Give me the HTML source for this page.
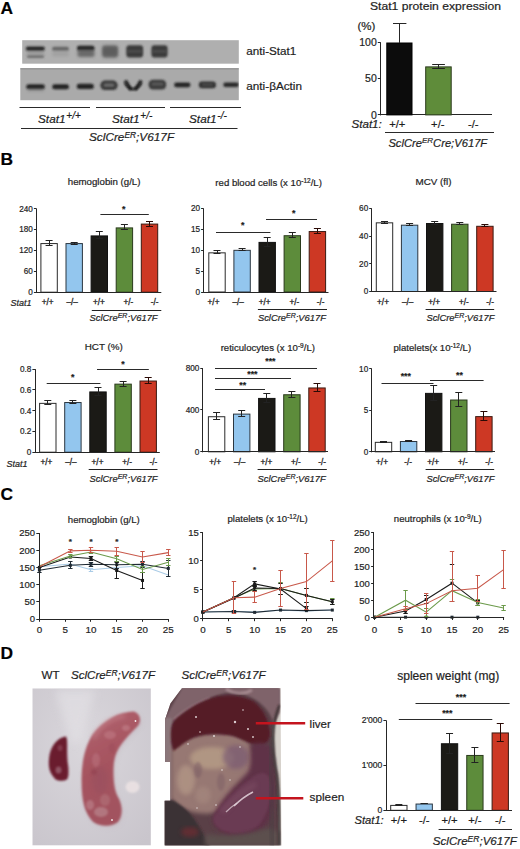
<!DOCTYPE html>
<html><head><meta charset="utf-8"><style>
html,body{margin:0;padding:0;background:#fff;width:520px;height:849px;overflow:hidden}
svg{display:block}
text{font-family:"Liberation Sans", sans-serif}
text:not([fill]){fill:#1e1e1e}
text{stroke:#1e1e1e;stroke-width:0.2px}
text.gt{stroke-width:0.3px}
</style></head><body>
<svg width="520" height="849" viewBox="0 0 520 849">
<rect width="520" height="849" fill="#fff"/>
<text x="0.40" y="13.80" font-size="17.4" font-weight="bold" fill="#000">A</text>
<text x="0.40" y="164.60" font-size="17.4" font-weight="bold" fill="#000">B</text>
<text x="0.40" y="499.90" font-size="17.4" font-weight="bold" fill="#000">C</text>
<text x="0.40" y="658.80" font-size="17.4" font-weight="bold" fill="#000">D</text>
<g id="blots">
<rect x="22.20" y="40.20" width="216.60" height="23.50" fill="#afafaf" />
<rect x="20.30" y="68.00" width="218.50" height="32.20" fill="#aaaaaa" />
</g>
<defs>
<filter id="bl1" x="-30%" y="-80%" width="160%" height="260%"><feGaussianBlur stdDeviation="1.05"/></filter>
<filter id="bl2" x="-30%" y="-80%" width="160%" height="260%"><feGaussianBlur stdDeviation="1.4"/></filter>
<clipPath id="cbt"><rect x="22.2" y="40.2" width="216.6" height="23.5"/></clipPath>
<clipPath id="cbb"><rect x="20.3" y="68.0" width="218.5" height="32.2"/></clipPath>
</defs>
<g clip-path="url(#cbt)">
<rect x="25.8" y="46.4" width="19" height="4.4" rx="2.2" fill="#1e1e1e" opacity="0.95" filter="url(#bl1)"/>
<rect x="27" y="55.4" width="17" height="2.4" rx="1.2" fill="#4a4a4a" opacity="0.75" filter="url(#bl1)"/>
<rect x="27" y="50.5" width="17" height="5" rx="1.5" fill="#777" opacity="0.35" filter="url(#bl2)"/>
<rect x="52.0" y="46.8" width="17" height="4.0" rx="2" fill="#585858" opacity="0.85" filter="url(#bl1)"/>
<rect x="52.3" y="50.5" width="16.5" height="6" rx="1.5" fill="#888" opacity="0.35" filter="url(#bl2)"/>
<rect x="77.0" y="45.8" width="17.5" height="4.8" rx="2.2" fill="#1a1a1a" opacity="0.95" filter="url(#bl1)"/>
<rect x="77.5" y="49.5" width="17" height="7.5" rx="2" fill="#4e4e4e" opacity="0.7" filter="url(#bl2)"/>
<rect x="102.0" y="45.2" width="16.2" height="12.5" rx="3" fill="#606060" opacity="0.9" filter="url(#bl2)"/>
<rect x="103.0" y="47.0" width="14.0" height="8.5" rx="2" fill="#555" opacity="0.5" filter="url(#bl1)"/>
<rect x="126.3" y="45.3" width="16.8" height="12.2" rx="3" fill="#343434" opacity="0.95" filter="url(#bl1)"/>
<rect x="127.5" y="50.3" width="14.5" height="2.2" rx="1" fill="#6a6a6a" opacity="0.45" filter="url(#bl1)"/>
<rect x="151.4" y="45.3" width="16.2" height="12.2" rx="3" fill="#343434" opacity="0.95" filter="url(#bl1)"/>
<rect x="152.5" y="50.3" width="14" height="2.2" rx="1" fill="#6a6a6a" opacity="0.45" filter="url(#bl1)"/>
</g>
<g clip-path="url(#cbb)">
<rect x="20.3" y="68" width="218.5" height="1.6" fill="#8e8e8e" opacity="0.6"/>
<rect x="26.3" y="84.2" width="18.5" height="5.0" rx="2.5" fill="#1a1a1a" opacity="0.95" filter="url(#bl1)"/>
<rect x="26.8" y="88.5" width="17.5" height="3" rx="1.5" fill="#777" opacity="0.4" filter="url(#bl2)"/>
<rect x="52.2" y="84.2" width="16.8" height="5.0" rx="2.5" fill="#1e1e1e" opacity="0.95" filter="url(#bl1)"/>
<rect x="76.8" y="83.8" width="17" height="5.2" rx="2.5" fill="#1a1a1a" opacity="0.95" filter="url(#bl1)"/>
<rect x="100.4" y="80.6" width="17.2" height="9.5" rx="4.5" fill="#2e2e2e" opacity="0.92" filter="url(#bl1)"/>
<rect x="103.5" y="83.2" width="11" height="3.8" rx="1.8" fill="#8a8a8a" opacity="0.6" filter="url(#bl1)"/>
<path d="M124.5,80.8 Q133,95 141.8,80.8 L141.8,84.5 Q133,96 124.5,84.5 Z" fill="#1a1a1a" filter="url(#bl1)"/>
<path d="M125.5,80.5 L131,90 M141,80.5 L135.2,90" stroke="#1e1e1e" stroke-width="3" filter="url(#bl1)"/>
<rect x="148.6" y="79.8" width="17.6" height="9.8" rx="4.5" fill="#303030" opacity="0.92" filter="url(#bl1)"/>
<rect x="151.5" y="82.3" width="12" height="3.5" rx="1.5" fill="#7a7a7a" opacity="0.45" filter="url(#bl1)"/>
<rect x="174.2" y="82.6" width="16.2" height="4.6" rx="2.2" fill="#1e1e1e" opacity="0.95" filter="url(#bl1)"/>
<rect x="198.9" y="81.4" width="17" height="6.8" rx="3" fill="#282828" opacity="0.95" filter="url(#bl1)"/>
<rect x="201.5" y="83.6" width="12" height="2.4" rx="1" fill="#777" opacity="0.45" filter="url(#bl1)"/>
<rect x="223.3" y="82.4" width="15.5" height="4.6" rx="2.2" fill="#222" opacity="0.95" filter="url(#bl1)"/>
</g>
<text x="246.30" y="55.00" font-size="11.7" textLength="50.00" lengthAdjust="spacingAndGlyphs">anti-Stat1</text>
<text x="246.30" y="89.60" font-size="11.7" textLength="55.70" lengthAdjust="spacingAndGlyphs">anti-βActin</text>
<line x1="19.50" y1="107.50" x2="90.00" y2="107.50" stroke="#2a2a2a" stroke-width="1.2" />
<line x1="96.00" y1="107.50" x2="165.00" y2="107.50" stroke="#2a2a2a" stroke-width="1.2" />
<line x1="170.00" y1="107.50" x2="241.00" y2="107.50" stroke="#2a2a2a" stroke-width="1.2" />
<line x1="21.00" y1="128.50" x2="237.50" y2="128.50" stroke="#2a2a2a" stroke-width="1.2" />
<text x="38.00" y="122.80" font-size="11.8" font-style="italic">Stat1<tspan dy="-4.2" dx="0.8" font-size="10">+/+</tspan></text>
<text x="112.00" y="122.80" font-size="11.8" font-style="italic">Stat1<tspan dy="-4.2" dx="0.8" font-size="10">+/-</tspan></text>
<text x="189.00" y="122.80" font-size="11.8" font-style="italic">Stat1<tspan dy="-4.2" dx="0.8" font-size="10">-/-</tspan></text>
<text x="89.00" y="141.20" font-size="11.8" font-style="italic">SclCre<tspan dy="-3.6" font-size="8.4">ER</tspan><tspan dy="3.6">;V617F</tspan></text>
<text x="435.50" y="10.00" font-size="11.5" text-anchor="middle" textLength="131.00" lengthAdjust="spacingAndGlyphs">Stat1 protein expression</text>
<text x="357.50" y="29.50" font-size="11.5">(%)</text>
<line x1="380.50" y1="42.50" x2="380.50" y2="115.40" stroke="#262626" stroke-width="1.0" />
<line x1="380.30" y1="114.50" x2="492.00" y2="114.50" stroke="#262626" stroke-width="1.0" />
<line x1="377.80" y1="114.50" x2="380.80" y2="114.50" stroke="#262626" stroke-width="1.0" />
<text x="376.80" y="118.60" font-size="10.5" text-anchor="end">0</text>
<line x1="377.80" y1="78.50" x2="380.80" y2="78.50" stroke="#262626" stroke-width="1.0" />
<text x="376.80" y="82.40" font-size="10.5" text-anchor="end">50</text>
<line x1="377.80" y1="42.50" x2="380.80" y2="42.50" stroke="#262626" stroke-width="1.0" />
<text x="376.80" y="46.20" font-size="10.5" text-anchor="end">100</text>
<rect x="386.80" y="43.00" width="25.20" height="71.90" fill="#0c0c0c" stroke="#000" stroke-width="1" />
<line x1="399.50" y1="23.00" x2="399.50" y2="43.00" stroke="#262626" stroke-width="1.0" />
<line x1="393.00" y1="23.50" x2="406.40" y2="23.50" stroke="#262626" stroke-width="1.0" />
<rect x="425.70" y="66.89" width="25.50" height="48.01" fill="#5f8c3a" stroke="#2a3a1c" stroke-width="1" />
<line x1="438.50" y1="64.70" x2="438.50" y2="68.30" stroke="#222" stroke-width="1.0" />
<line x1="432.20" y1="64.50" x2="444.90" y2="64.50" stroke="#222" stroke-width="1.0" />
<line x1="432.20" y1="68.50" x2="444.90" y2="68.50" stroke="#222" stroke-width="1.0" />
<text x="351.50" y="127.60" font-size="11.6" font-style="italic">Stat1:</text>
<text x="397.30" y="127.60" font-size="11.2" text-anchor="middle">+/+</text>
<text x="437.80" y="127.60" font-size="11.2" text-anchor="middle">+/-</text>
<text x="473.20" y="127.60" font-size="11.2" text-anchor="middle">-/-</text>
<line x1="385.00" y1="132.50" x2="494.00" y2="132.50" stroke="#2a2a2a" stroke-width="1.2" />
<text x="388.40" y="146.60" font-size="11.2" font-style="italic">SclCre<tspan dy="-3.2" font-size="8">ER</tspan><tspan dy="3.2">Cre;V617F</tspan></text>
<rect x="40.90" y="243.58" width="16.40" height="48.62" fill="#ffffff" stroke="#2a2a2a" stroke-width="1.0" />
<line x1="49.50" y1="240.65" x2="49.50" y2="245.52" stroke="#222" stroke-width="1.0" />
<line x1="45.60" y1="240.50" x2="52.60" y2="240.50" stroke="#222" stroke-width="1.0" />
<line x1="45.60" y1="245.50" x2="52.60" y2="245.50" stroke="#222" stroke-width="1.0" />
<rect x="66.00" y="243.58" width="16.40" height="48.62" fill="#93c6ee" stroke="#2b3640" stroke-width="1.0" />
<line x1="74.50" y1="242.04" x2="74.50" y2="244.13" stroke="#222" stroke-width="1.0" />
<line x1="70.70" y1="242.50" x2="77.70" y2="242.50" stroke="#222" stroke-width="1.0" />
<line x1="70.70" y1="244.50" x2="77.70" y2="244.50" stroke="#222" stroke-width="1.0" />
<rect x="91.10" y="235.92" width="16.40" height="56.28" fill="#1b1a16" stroke="#111" stroke-width="1.0" />
<line x1="99.50" y1="231.94" x2="99.50" y2="238.90" stroke="#222" stroke-width="1.0" />
<line x1="95.80" y1="231.50" x2="102.80" y2="231.50" stroke="#222" stroke-width="1.0" />
<line x1="95.80" y1="238.50" x2="102.80" y2="238.50" stroke="#222" stroke-width="1.0" />
<rect x="116.20" y="227.91" width="16.40" height="64.29" fill="#5d8c3b" stroke="#2a3a1c" stroke-width="1.0" />
<line x1="124.50" y1="224.97" x2="124.50" y2="229.85" stroke="#222" stroke-width="1.0" />
<line x1="120.90" y1="224.50" x2="127.90" y2="224.50" stroke="#222" stroke-width="1.0" />
<line x1="120.90" y1="229.50" x2="127.90" y2="229.50" stroke="#222" stroke-width="1.0" />
<rect x="141.30" y="224.08" width="16.40" height="68.12" fill="#cd3824" stroke="#3a1a12" stroke-width="1.0" />
<line x1="149.50" y1="221.14" x2="149.50" y2="226.02" stroke="#2a0a05" stroke-width="1.0" />
<line x1="146.00" y1="221.50" x2="153.00" y2="221.50" stroke="#2a0a05" stroke-width="1.0" />
<line x1="146.00" y1="226.50" x2="153.00" y2="226.50" stroke="#2a0a05" stroke-width="1.0" />
<line x1="36.50" y1="208.60" x2="36.50" y2="292.70" stroke="#262626" stroke-width="1.0" />
<line x1="36.00" y1="292.50" x2="161.30" y2="292.50" stroke="#262626" stroke-width="1.0" />
<line x1="33.90" y1="292.50" x2="36.50" y2="292.50" stroke="#262626" stroke-width="1.0" />
<text x="32.90" y="295.15" font-size="8.2" text-anchor="end">0</text>
<line x1="33.90" y1="271.50" x2="36.50" y2="271.50" stroke="#262626" stroke-width="1.0" />
<text x="32.90" y="274.25" font-size="8.2" text-anchor="end">60</text>
<line x1="33.90" y1="250.50" x2="36.50" y2="250.50" stroke="#262626" stroke-width="1.0" />
<text x="32.90" y="253.35" font-size="8.2" text-anchor="end">120</text>
<line x1="33.90" y1="229.50" x2="36.50" y2="229.50" stroke="#262626" stroke-width="1.0" />
<text x="32.90" y="232.45" font-size="8.2" text-anchor="end">180</text>
<line x1="33.90" y1="208.50" x2="36.50" y2="208.50" stroke="#262626" stroke-width="1.0" />
<text x="32.90" y="211.55" font-size="8.2" text-anchor="end">240</text>
<line x1="100.40" y1="214.50" x2="148.80" y2="214.50" stroke="#2a2a2a" stroke-width="1.0" />
<text x="123.60" y="211.90" font-size="8.8" text-anchor="middle" font-weight="bold">*</text>
<text x="104.10" y="184.70" font-size="9.6" text-anchor="middle" textLength="72.70" lengthAdjust="spacingAndGlyphs">hemoglobin (g/L)</text>
<text x="10.40" y="306.40" font-size="9" font-style="italic">Stat1</text>
<text x="47.60" y="305.00" font-size="8.2" class="gt" text-anchor="middle">+/+</text>
<text x="72.20" y="305.00" font-size="8.2" class="gt" text-anchor="middle">–/–</text>
<text x="98.80" y="305.00" font-size="8.2" class="gt" text-anchor="middle">+/+</text>
<text x="128.40" y="305.00" font-size="8.2" class="gt" text-anchor="middle">+/-</text>
<text x="154.70" y="305.00" font-size="8.2" class="gt" text-anchor="middle">-/-</text>
<line x1="91.80" y1="310.50" x2="161.30" y2="310.50" stroke="#222" stroke-width="1.0" />
<text x="89.50" y="321.30" font-size="9.4" font-style="italic">SclCre<tspan dy="-3.2" font-size="7">ER</tspan><tspan dy="3.2">;V617F</tspan></text>
<rect x="208.80" y="252.84" width="16.40" height="39.16" fill="#ffffff" stroke="#2a2a2a" stroke-width="1.0" />
<line x1="217.50" y1="250.88" x2="217.50" y2="253.80" stroke="#222" stroke-width="1.0" />
<line x1="213.50" y1="250.50" x2="220.50" y2="250.50" stroke="#222" stroke-width="1.0" />
<line x1="213.50" y1="253.50" x2="220.50" y2="253.50" stroke="#222" stroke-width="1.0" />
<rect x="233.90" y="250.33" width="16.40" height="41.67" fill="#93c6ee" stroke="#2b3640" stroke-width="1.0" />
<line x1="242.50" y1="248.79" x2="242.50" y2="250.88" stroke="#222" stroke-width="1.0" />
<line x1="238.60" y1="248.50" x2="245.60" y2="248.50" stroke="#222" stroke-width="1.0" />
<line x1="238.60" y1="250.50" x2="245.60" y2="250.50" stroke="#222" stroke-width="1.0" />
<rect x="259.00" y="242.40" width="16.40" height="49.60" fill="#1b1a16" stroke="#111" stroke-width="1.0" />
<line x1="267.50" y1="237.72" x2="267.50" y2="246.07" stroke="#222" stroke-width="1.0" />
<line x1="263.70" y1="237.50" x2="270.70" y2="237.50" stroke="#222" stroke-width="1.0" />
<line x1="263.70" y1="246.50" x2="270.70" y2="246.50" stroke="#222" stroke-width="1.0" />
<rect x="284.10" y="235.72" width="16.40" height="56.28" fill="#5d8c3b" stroke="#2a3a1c" stroke-width="1.0" />
<line x1="292.50" y1="232.72" x2="292.50" y2="237.72" stroke="#222" stroke-width="1.0" />
<line x1="288.80" y1="232.50" x2="295.80" y2="232.50" stroke="#222" stroke-width="1.0" />
<line x1="288.80" y1="237.50" x2="295.80" y2="237.50" stroke="#222" stroke-width="1.0" />
<rect x="309.20" y="231.55" width="16.40" height="60.45" fill="#cd3824" stroke="#3a1a12" stroke-width="1.0" />
<line x1="317.50" y1="228.54" x2="317.50" y2="233.55" stroke="#2a0a05" stroke-width="1.0" />
<line x1="313.90" y1="228.50" x2="320.90" y2="228.50" stroke="#2a0a05" stroke-width="1.0" />
<line x1="313.90" y1="233.50" x2="320.90" y2="233.50" stroke="#2a0a05" stroke-width="1.0" />
<line x1="203.50" y1="208.50" x2="203.50" y2="292.50" stroke="#262626" stroke-width="1.0" />
<line x1="203.20" y1="292.50" x2="328.50" y2="292.50" stroke="#262626" stroke-width="1.0" />
<line x1="201.10" y1="292.50" x2="203.70" y2="292.50" stroke="#262626" stroke-width="1.0" />
<text x="200.10" y="294.95" font-size="8.2" text-anchor="end">0</text>
<line x1="201.10" y1="271.50" x2="203.70" y2="271.50" stroke="#262626" stroke-width="1.0" />
<text x="200.10" y="274.08" font-size="8.2" text-anchor="end">5</text>
<line x1="201.10" y1="250.50" x2="203.70" y2="250.50" stroke="#262626" stroke-width="1.0" />
<text x="200.10" y="253.20" font-size="8.2" text-anchor="end">10</text>
<line x1="201.10" y1="229.50" x2="203.70" y2="229.50" stroke="#262626" stroke-width="1.0" />
<text x="200.10" y="232.33" font-size="8.2" text-anchor="end">15</text>
<line x1="201.10" y1="208.50" x2="203.70" y2="208.50" stroke="#262626" stroke-width="1.0" />
<text x="200.10" y="211.45" font-size="8.2" text-anchor="end">20</text>
<line x1="216.00" y1="232.50" x2="270.40" y2="232.50" stroke="#2a2a2a" stroke-width="1.0" />
<text x="242.70" y="227.60" font-size="8.8" text-anchor="middle" font-weight="bold">*</text>
<line x1="266.00" y1="219.50" x2="317.00" y2="219.50" stroke="#2a2a2a" stroke-width="1.0" />
<text x="293.60" y="215.60" font-size="8.8" text-anchor="middle" font-weight="bold">*</text>
<text x="268.60" y="185.70" font-size="9.6" text-anchor="middle">red blood cells (x 10<tspan dy="-3" font-size="6.5">-12</tspan><tspan dy="3">/L)</tspan></text>
<text x="213.50" y="305.00" font-size="8.2" class="gt" text-anchor="middle">+/+</text>
<text x="238.10" y="305.00" font-size="8.2" class="gt" text-anchor="middle">–/–</text>
<text x="264.70" y="305.00" font-size="8.2" class="gt" text-anchor="middle">+/+</text>
<text x="294.30" y="305.00" font-size="8.2" class="gt" text-anchor="middle">+/-</text>
<text x="320.60" y="305.00" font-size="8.2" class="gt" text-anchor="middle">-/-</text>
<line x1="257.90" y1="309.50" x2="327.00" y2="309.50" stroke="#222" stroke-width="1.0" />
<text x="257.90" y="321.30" font-size="9.4" font-style="italic">SclCre<tspan dy="-3.2" font-size="7">ER</tspan><tspan dy="3.2">;V617F</tspan></text>
<rect x="376.30" y="222.83" width="16.40" height="68.67" fill="#ffffff" stroke="#2a2a2a" stroke-width="1.0" />
<line x1="384.50" y1="221.50" x2="384.50" y2="223.16" stroke="#222" stroke-width="1.0" />
<line x1="381.00" y1="221.50" x2="388.00" y2="221.50" stroke="#222" stroke-width="1.0" />
<line x1="381.00" y1="223.50" x2="388.00" y2="223.50" stroke="#222" stroke-width="1.0" />
<rect x="401.40" y="225.19" width="16.40" height="66.31" fill="#93c6ee" stroke="#2b3640" stroke-width="1.0" />
<line x1="409.50" y1="223.86" x2="409.50" y2="225.51" stroke="#222" stroke-width="1.0" />
<line x1="406.10" y1="223.50" x2="413.10" y2="223.50" stroke="#222" stroke-width="1.0" />
<line x1="406.10" y1="225.50" x2="413.10" y2="225.50" stroke="#222" stroke-width="1.0" />
<rect x="426.50" y="223.53" width="16.40" height="67.97" fill="#1b1a16" stroke="#111" stroke-width="1.0" />
<line x1="434.50" y1="221.64" x2="434.50" y2="224.41" stroke="#222" stroke-width="1.0" />
<line x1="431.20" y1="221.50" x2="438.20" y2="221.50" stroke="#222" stroke-width="1.0" />
<line x1="431.20" y1="224.50" x2="438.20" y2="224.50" stroke="#222" stroke-width="1.0" />
<rect x="451.60" y="224.22" width="16.40" height="67.28" fill="#5d8c3b" stroke="#2a3a1c" stroke-width="1.0" />
<line x1="459.50" y1="222.75" x2="459.50" y2="224.69" stroke="#222" stroke-width="1.0" />
<line x1="456.30" y1="222.50" x2="463.30" y2="222.50" stroke="#222" stroke-width="1.0" />
<line x1="456.30" y1="224.50" x2="463.30" y2="224.50" stroke="#222" stroke-width="1.0" />
<rect x="476.70" y="226.29" width="16.40" height="65.21" fill="#cd3824" stroke="#3a1a12" stroke-width="1.0" />
<line x1="484.50" y1="224.96" x2="484.50" y2="226.62" stroke="#2a0a05" stroke-width="1.0" />
<line x1="481.40" y1="224.50" x2="488.40" y2="224.50" stroke="#2a0a05" stroke-width="1.0" />
<line x1="481.40" y1="226.50" x2="488.40" y2="226.50" stroke="#2a0a05" stroke-width="1.0" />
<line x1="371.50" y1="208.50" x2="371.50" y2="292.00" stroke="#262626" stroke-width="1.0" />
<line x1="371.30" y1="291.50" x2="496.50" y2="291.50" stroke="#262626" stroke-width="1.0" />
<line x1="369.20" y1="291.50" x2="371.80" y2="291.50" stroke="#262626" stroke-width="1.0" />
<text x="368.20" y="294.45" font-size="8.2" text-anchor="end">0</text>
<line x1="369.20" y1="263.50" x2="371.80" y2="263.50" stroke="#262626" stroke-width="1.0" />
<text x="368.20" y="266.79" font-size="8.2" text-anchor="end">20</text>
<line x1="369.20" y1="236.50" x2="371.80" y2="236.50" stroke="#262626" stroke-width="1.0" />
<text x="368.20" y="239.12" font-size="8.2" text-anchor="end">40</text>
<line x1="369.20" y1="208.50" x2="371.80" y2="208.50" stroke="#262626" stroke-width="1.0" />
<text x="368.20" y="211.45" font-size="8.2" text-anchor="end">60</text>
<text x="433.50" y="184.70" font-size="9.6" text-anchor="middle" textLength="36.00" lengthAdjust="spacingAndGlyphs">MCV (fl)</text>
<text x="383.00" y="305.00" font-size="8.2" class="gt" text-anchor="middle">+/+</text>
<text x="407.60" y="305.00" font-size="8.2" class="gt" text-anchor="middle">–/–</text>
<text x="434.20" y="305.00" font-size="8.2" class="gt" text-anchor="middle">+/+</text>
<text x="463.80" y="305.00" font-size="8.2" class="gt" text-anchor="middle">+/-</text>
<text x="490.10" y="305.00" font-size="8.2" class="gt" text-anchor="middle">-/-</text>
<line x1="425.60" y1="309.50" x2="494.20" y2="309.50" stroke="#222" stroke-width="1.0" />
<text x="426.40" y="321.30" font-size="9.4" font-style="italic">SclCre<tspan dy="-3.2" font-size="7">ER</tspan><tspan dy="3.2">;V617F</tspan></text>
<rect x="39.60" y="403.36" width="16.40" height="48.84" fill="#ffffff" stroke="#2a2a2a" stroke-width="1.0" />
<line x1="47.50" y1="400.78" x2="47.50" y2="404.94" stroke="#222" stroke-width="1.0" />
<line x1="44.30" y1="400.50" x2="51.30" y2="400.50" stroke="#222" stroke-width="1.0" />
<line x1="44.30" y1="404.50" x2="51.30" y2="404.50" stroke="#222" stroke-width="1.0" />
<rect x="64.70" y="402.53" width="16.40" height="49.67" fill="#93c6ee" stroke="#2b3640" stroke-width="1.0" />
<line x1="72.50" y1="400.47" x2="72.50" y2="403.59" stroke="#222" stroke-width="1.0" />
<line x1="69.40" y1="400.50" x2="76.40" y2="400.50" stroke="#222" stroke-width="1.0" />
<line x1="69.40" y1="403.50" x2="76.40" y2="403.50" stroke="#222" stroke-width="1.0" />
<rect x="89.80" y="391.93" width="16.40" height="60.27" fill="#1b1a16" stroke="#111" stroke-width="1.0" />
<line x1="98.50" y1="387.28" x2="98.50" y2="395.59" stroke="#222" stroke-width="1.0" />
<line x1="94.50" y1="387.50" x2="101.50" y2="387.50" stroke="#222" stroke-width="1.0" />
<line x1="94.50" y1="395.50" x2="101.50" y2="395.50" stroke="#222" stroke-width="1.0" />
<rect x="114.90" y="384.14" width="16.40" height="68.06" fill="#5d8c3b" stroke="#2a3a1c" stroke-width="1.0" />
<line x1="123.50" y1="381.05" x2="123.50" y2="386.24" stroke="#222" stroke-width="1.0" />
<line x1="119.60" y1="381.50" x2="126.60" y2="381.50" stroke="#222" stroke-width="1.0" />
<line x1="119.60" y1="386.50" x2="126.60" y2="386.50" stroke="#222" stroke-width="1.0" />
<rect x="140.00" y="381.03" width="16.40" height="71.17" fill="#cd3824" stroke="#3a1a12" stroke-width="1.0" />
<line x1="148.50" y1="377.93" x2="148.50" y2="383.12" stroke="#2a0a05" stroke-width="1.0" />
<line x1="144.70" y1="377.50" x2="151.70" y2="377.50" stroke="#2a0a05" stroke-width="1.0" />
<line x1="144.70" y1="383.50" x2="151.70" y2="383.50" stroke="#2a0a05" stroke-width="1.0" />
<line x1="35.50" y1="369.10" x2="35.50" y2="452.70" stroke="#262626" stroke-width="1.0" />
<line x1="34.50" y1="452.50" x2="159.80" y2="452.50" stroke="#262626" stroke-width="1.0" />
<line x1="32.40" y1="452.50" x2="35.00" y2="452.50" stroke="#262626" stroke-width="1.0" />
<text x="31.40" y="455.15" font-size="8.2" text-anchor="end">0</text>
<line x1="32.40" y1="431.50" x2="35.00" y2="431.50" stroke="#262626" stroke-width="1.0" />
<text x="31.40" y="434.38" font-size="8.2" text-anchor="end">0.2</text>
<line x1="32.40" y1="410.50" x2="35.00" y2="410.50" stroke="#262626" stroke-width="1.0" />
<text x="31.40" y="413.60" font-size="8.2" text-anchor="end">0.4</text>
<line x1="32.40" y1="389.50" x2="35.00" y2="389.50" stroke="#262626" stroke-width="1.0" />
<text x="31.40" y="392.83" font-size="8.2" text-anchor="end">0.6</text>
<line x1="32.40" y1="369.50" x2="35.00" y2="369.50" stroke="#262626" stroke-width="1.0" />
<text x="31.40" y="372.05" font-size="8.2" text-anchor="end">0.8</text>
<line x1="46.70" y1="383.50" x2="100.40" y2="383.50" stroke="#2a2a2a" stroke-width="1.0" />
<text x="72.70" y="379.60" font-size="8.8" text-anchor="middle" font-weight="bold">*</text>
<line x1="97.00" y1="369.50" x2="148.80" y2="369.50" stroke="#2a2a2a" stroke-width="1.0" />
<text x="122.90" y="366.50" font-size="8.8" text-anchor="middle" font-weight="bold">*</text>
<text x="103.80" y="350.00" font-size="9.6" text-anchor="middle" textLength="38.10" lengthAdjust="spacingAndGlyphs">HCT (%)</text>
<text x="6.60" y="466.70" font-size="9" font-style="italic">Stat1</text>
<text x="46.30" y="465.30" font-size="8.2" class="gt" text-anchor="middle">+/+</text>
<text x="70.90" y="465.30" font-size="8.2" class="gt" text-anchor="middle">–/–</text>
<text x="97.50" y="465.30" font-size="8.2" class="gt" text-anchor="middle">+/+</text>
<text x="127.10" y="465.30" font-size="8.2" class="gt" text-anchor="middle">+/-</text>
<text x="153.40" y="465.30" font-size="8.2" class="gt" text-anchor="middle">-/-</text>
<line x1="88.70" y1="469.50" x2="157.50" y2="469.50" stroke="#222" stroke-width="1.0" />
<text x="89.50" y="481.80" font-size="9.4" font-style="italic">SclCre<tspan dy="-3.2" font-size="7">ER</tspan><tspan dy="3.2">;V617F</tspan></text>
<rect x="208.40" y="416.73" width="16.40" height="35.07" fill="#ffffff" stroke="#2a2a2a" stroke-width="1.0" />
<line x1="216.50" y1="412.57" x2="216.50" y2="419.89" stroke="#222" stroke-width="1.0" />
<line x1="213.10" y1="412.50" x2="220.10" y2="412.50" stroke="#222" stroke-width="1.0" />
<line x1="213.10" y1="419.50" x2="220.10" y2="419.50" stroke="#222" stroke-width="1.0" />
<rect x="233.50" y="414.11" width="16.40" height="37.69" fill="#93c6ee" stroke="#2b3640" stroke-width="1.0" />
<line x1="241.50" y1="410.47" x2="241.50" y2="416.75" stroke="#222" stroke-width="1.0" />
<line x1="238.20" y1="410.50" x2="245.20" y2="410.50" stroke="#222" stroke-width="1.0" />
<line x1="238.20" y1="416.50" x2="245.20" y2="416.50" stroke="#222" stroke-width="1.0" />
<rect x="258.60" y="398.42" width="16.40" height="53.38" fill="#1b1a16" stroke="#111" stroke-width="1.0" />
<line x1="266.50" y1="393.21" x2="266.50" y2="402.63" stroke="#222" stroke-width="1.0" />
<line x1="263.30" y1="393.50" x2="270.30" y2="393.50" stroke="#222" stroke-width="1.0" />
<line x1="263.30" y1="402.50" x2="270.30" y2="402.50" stroke="#222" stroke-width="1.0" />
<rect x="283.70" y="394.76" width="16.40" height="57.04" fill="#5d8c3b" stroke="#2a3a1c" stroke-width="1.0" />
<line x1="291.50" y1="391.12" x2="291.50" y2="397.40" stroke="#222" stroke-width="1.0" />
<line x1="288.40" y1="391.50" x2="295.40" y2="391.50" stroke="#222" stroke-width="1.0" />
<line x1="288.40" y1="397.50" x2="295.40" y2="397.50" stroke="#222" stroke-width="1.0" />
<rect x="308.80" y="387.96" width="16.40" height="63.84" fill="#cd3824" stroke="#3a1a12" stroke-width="1.0" />
<line x1="317.50" y1="383.27" x2="317.50" y2="391.64" stroke="#2a0a05" stroke-width="1.0" />
<line x1="313.50" y1="383.50" x2="320.50" y2="383.50" stroke="#2a0a05" stroke-width="1.0" />
<line x1="313.50" y1="391.50" x2="320.50" y2="391.50" stroke="#2a0a05" stroke-width="1.0" />
<line x1="202.50" y1="368.10" x2="202.50" y2="452.30" stroke="#262626" stroke-width="1.0" />
<line x1="202.40" y1="451.50" x2="328.00" y2="451.50" stroke="#262626" stroke-width="1.0" />
<line x1="200.30" y1="451.50" x2="202.90" y2="451.50" stroke="#262626" stroke-width="1.0" />
<text x="199.30" y="454.75" font-size="8.2" text-anchor="end">0</text>
<line x1="200.30" y1="409.50" x2="202.90" y2="409.50" stroke="#262626" stroke-width="1.0" />
<text x="199.30" y="412.90" font-size="8.2" text-anchor="end">400</text>
<line x1="200.30" y1="368.50" x2="202.90" y2="368.50" stroke="#262626" stroke-width="1.0" />
<text x="199.30" y="371.05" font-size="8.2" text-anchor="end">800</text>
<line x1="215.00" y1="368.50" x2="317.00" y2="368.50" stroke="#2a2a2a" stroke-width="1.0" />
<text x="270.40" y="364.10" font-size="8.8" text-anchor="middle" font-weight="bold">***</text>
<line x1="215.00" y1="378.50" x2="291.00" y2="378.50" stroke="#2a2a2a" stroke-width="1.0" />
<text x="252.40" y="376.90" font-size="8.8" text-anchor="middle" font-weight="bold">***</text>
<line x1="215.00" y1="389.50" x2="265.00" y2="389.50" stroke="#2a2a2a" stroke-width="1.0" />
<text x="242.70" y="387.90" font-size="8.8" text-anchor="middle" font-weight="bold">**</text>
<text x="267.80" y="351.00" font-size="9.6" text-anchor="middle">reticulocytes (x 10<tspan dy="-3" font-size="6.5">-9</tspan><tspan dy="3">/L)</tspan></text>
<text x="215.10" y="465.30" font-size="8.2" class="gt" text-anchor="middle">+/+</text>
<text x="239.70" y="465.30" font-size="8.2" class="gt" text-anchor="middle">–/–</text>
<text x="266.30" y="465.30" font-size="8.2" class="gt" text-anchor="middle">+/+</text>
<text x="295.90" y="465.30" font-size="8.2" class="gt" text-anchor="middle">+/-</text>
<text x="322.20" y="465.30" font-size="8.2" class="gt" text-anchor="middle">-/-</text>
<line x1="257.60" y1="469.50" x2="326.80" y2="469.50" stroke="#222" stroke-width="1.0" />
<text x="257.60" y="481.80" font-size="9.4" font-style="italic">SclCre<tspan dy="-3.2" font-size="7">ER</tspan><tspan dy="3.2">;V617F</tspan></text>
<rect x="375.30" y="442.34" width="16.40" height="9.46" fill="#ffffff" stroke="#2a2a2a" stroke-width="1.0" />
<line x1="383.50" y1="441.34" x2="383.50" y2="442.34" stroke="#222" stroke-width="1.0" />
<line x1="380.00" y1="441.50" x2="387.00" y2="441.50" stroke="#222" stroke-width="1.0" />
<line x1="380.00" y1="442.50" x2="387.00" y2="442.50" stroke="#222" stroke-width="1.0" />
<rect x="400.40" y="441.51" width="16.40" height="10.29" fill="#93c6ee" stroke="#2b3640" stroke-width="1.0" />
<line x1="408.50" y1="440.51" x2="408.50" y2="441.51" stroke="#222" stroke-width="1.0" />
<line x1="405.10" y1="440.50" x2="412.10" y2="440.50" stroke="#222" stroke-width="1.0" />
<line x1="405.10" y1="441.50" x2="412.10" y2="441.50" stroke="#222" stroke-width="1.0" />
<rect x="425.50" y="393.37" width="16.40" height="58.43" fill="#1b1a16" stroke="#111" stroke-width="1.0" />
<line x1="433.50" y1="385.40" x2="433.50" y2="400.34" stroke="#222" stroke-width="1.0" />
<line x1="430.20" y1="385.50" x2="437.20" y2="385.50" stroke="#222" stroke-width="1.0" />
<line x1="430.20" y1="400.50" x2="437.20" y2="400.50" stroke="#222" stroke-width="1.0" />
<rect x="450.60" y="400.01" width="16.40" height="51.79" fill="#5d8c3b" stroke="#2a3a1c" stroke-width="1.0" />
<line x1="458.50" y1="392.87" x2="458.50" y2="406.15" stroke="#222" stroke-width="1.0" />
<line x1="455.30" y1="392.50" x2="462.30" y2="392.50" stroke="#222" stroke-width="1.0" />
<line x1="455.30" y1="406.50" x2="462.30" y2="406.50" stroke="#222" stroke-width="1.0" />
<rect x="475.70" y="416.61" width="16.40" height="35.19" fill="#cd3824" stroke="#3a1a12" stroke-width="1.0" />
<line x1="483.50" y1="411.96" x2="483.50" y2="420.26" stroke="#2a0a05" stroke-width="1.0" />
<line x1="480.40" y1="411.50" x2="487.40" y2="411.50" stroke="#2a0a05" stroke-width="1.0" />
<line x1="480.40" y1="420.50" x2="487.40" y2="420.50" stroke="#2a0a05" stroke-width="1.0" />
<line x1="371.50" y1="368.80" x2="371.50" y2="452.30" stroke="#262626" stroke-width="1.0" />
<line x1="371.30" y1="451.50" x2="495.00" y2="451.50" stroke="#262626" stroke-width="1.0" />
<line x1="369.20" y1="451.50" x2="371.80" y2="451.50" stroke="#262626" stroke-width="1.0" />
<text x="368.20" y="454.75" font-size="8.2" text-anchor="end">0</text>
<line x1="369.20" y1="410.50" x2="371.80" y2="410.50" stroke="#262626" stroke-width="1.0" />
<text x="368.20" y="413.25" font-size="8.2" text-anchor="end">5</text>
<line x1="369.20" y1="368.50" x2="371.80" y2="368.50" stroke="#262626" stroke-width="1.0" />
<text x="368.20" y="371.75" font-size="8.2" text-anchor="end">10</text>
<line x1="381.50" y1="383.50" x2="433.50" y2="383.50" stroke="#2a2a2a" stroke-width="1.0" />
<text x="405.80" y="378.60" font-size="8.8" text-anchor="middle" font-weight="bold">***</text>
<line x1="430.00" y1="380.50" x2="483.60" y2="380.50" stroke="#2a2a2a" stroke-width="1.0" />
<text x="459.40" y="377.90" font-size="8.8" text-anchor="middle" font-weight="bold">**</text>
<text x="432.30" y="351.00" font-size="9.6" text-anchor="middle">platelets(x 10<tspan dy="-3" font-size="6.5">-12</tspan><tspan dy="3">/L)</tspan></text>
<text x="382.00" y="465.30" font-size="8.2" class="gt" text-anchor="middle">+/+</text>
<text x="408.10" y="465.30" font-size="8.2" class="gt" text-anchor="middle">-/-</text>
<text x="433.20" y="465.30" font-size="8.2" class="gt" text-anchor="middle">+/+</text>
<text x="462.80" y="465.30" font-size="8.2" class="gt" text-anchor="middle">+/-</text>
<text x="489.10" y="465.30" font-size="8.2" class="gt" text-anchor="middle">-/-</text>
<line x1="425.60" y1="469.50" x2="494.20" y2="469.50" stroke="#222" stroke-width="1.0" />
<text x="426.40" y="481.80" font-size="9.4" font-style="italic">SclCre<tspan dy="-3.2" font-size="7">ER</tspan><tspan dy="3.2">;V617F</tspan></text>
<polyline points="39.40,566.71 70.34,563.96 90.96,569.81 116.74,567.40 142.52,565.68 168.30,574.97" fill="none" stroke="#a9cbe6" stroke-width="1.05"/>
<line x1="90.50" y1="568.43" x2="90.50" y2="571.18" stroke="#a9cbe6" stroke-width="1.0" />
<line x1="88.76" y1="568.50" x2="93.16" y2="568.50" stroke="#a9cbe6" stroke-width="1.0" />
<line x1="88.76" y1="571.50" x2="93.16" y2="571.50" stroke="#a9cbe6" stroke-width="1.0" />
<polyline points="39.40,570.15 70.34,565.34 90.96,564.30 116.74,564.65 142.52,564.30 168.30,568.43" fill="none" stroke="#1f2a33" stroke-width="1.05"/>
<line x1="39.50" y1="567.40" x2="39.50" y2="572.90" stroke="#1f2a33" stroke-width="1.0" />
<line x1="37.20" y1="567.50" x2="41.60" y2="567.50" stroke="#1f2a33" stroke-width="1.0" />
<line x1="37.20" y1="572.50" x2="41.60" y2="572.50" stroke="#1f2a33" stroke-width="1.0" />
<rect x="37.90" y="568.65" width="3" height="3" fill="#1f2a33"/>
<line x1="70.50" y1="561.90" x2="70.50" y2="568.78" stroke="#1f2a33" stroke-width="1.0" />
<line x1="68.14" y1="561.50" x2="72.54" y2="561.50" stroke="#1f2a33" stroke-width="1.0" />
<line x1="68.14" y1="568.50" x2="72.54" y2="568.50" stroke="#1f2a33" stroke-width="1.0" />
<rect x="68.84" y="563.84" width="3" height="3" fill="#1f2a33"/>
<line x1="90.50" y1="562.58" x2="90.50" y2="566.02" stroke="#1f2a33" stroke-width="1.0" />
<line x1="88.76" y1="562.50" x2="93.16" y2="562.50" stroke="#1f2a33" stroke-width="1.0" />
<line x1="88.76" y1="566.50" x2="93.16" y2="566.50" stroke="#1f2a33" stroke-width="1.0" />
<rect x="89.46" y="562.80" width="3" height="3" fill="#1f2a33"/>
<line x1="116.50" y1="561.21" x2="116.50" y2="568.09" stroke="#1f2a33" stroke-width="1.0" />
<line x1="114.54" y1="561.50" x2="118.94" y2="561.50" stroke="#1f2a33" stroke-width="1.0" />
<line x1="114.54" y1="568.50" x2="118.94" y2="568.50" stroke="#1f2a33" stroke-width="1.0" />
<rect x="115.24" y="563.15" width="3" height="3" fill="#1f2a33"/>
<line x1="142.50" y1="561.55" x2="142.50" y2="567.06" stroke="#1f2a33" stroke-width="1.0" />
<line x1="140.32" y1="561.50" x2="144.72" y2="561.50" stroke="#1f2a33" stroke-width="1.0" />
<line x1="140.32" y1="567.50" x2="144.72" y2="567.50" stroke="#1f2a33" stroke-width="1.0" />
<rect x="141.02" y="562.80" width="3" height="3" fill="#1f2a33"/>
<line x1="168.50" y1="560.86" x2="168.50" y2="576.00" stroke="#1f2a33" stroke-width="1.0" />
<line x1="166.10" y1="560.50" x2="170.50" y2="560.50" stroke="#1f2a33" stroke-width="1.0" />
<line x1="166.10" y1="576.50" x2="170.50" y2="576.50" stroke="#1f2a33" stroke-width="1.0" />
<rect x="166.80" y="566.93" width="3" height="3" fill="#1f2a33"/>
<polyline points="39.40,567.40 70.34,557.08 90.96,558.46 116.74,570.50 142.52,580.47" fill="none" stroke="#1a1a1a" stroke-width="1.05"/>
<rect x="37.90" y="565.90" width="3" height="3" fill="#1a1a1a"/>
<rect x="68.84" y="555.58" width="3" height="3" fill="#1a1a1a"/>
<line x1="90.50" y1="556.39" x2="90.50" y2="560.52" stroke="#1a1a1a" stroke-width="1.0" />
<line x1="88.76" y1="556.50" x2="93.16" y2="556.50" stroke="#1a1a1a" stroke-width="1.0" />
<line x1="88.76" y1="560.50" x2="93.16" y2="560.50" stroke="#1a1a1a" stroke-width="1.0" />
<rect x="89.46" y="556.96" width="3" height="3" fill="#1a1a1a"/>
<line x1="116.50" y1="562.93" x2="116.50" y2="578.06" stroke="#1a1a1a" stroke-width="1.0" />
<line x1="114.54" y1="562.50" x2="118.94" y2="562.50" stroke="#1a1a1a" stroke-width="1.0" />
<line x1="114.54" y1="578.50" x2="118.94" y2="578.50" stroke="#1a1a1a" stroke-width="1.0" />
<rect x="115.24" y="569.00" width="3" height="3" fill="#1a1a1a"/>
<line x1="142.50" y1="572.90" x2="142.50" y2="588.04" stroke="#1a1a1a" stroke-width="1.0" />
<line x1="140.32" y1="572.50" x2="144.72" y2="572.50" stroke="#1a1a1a" stroke-width="1.0" />
<line x1="140.32" y1="588.50" x2="144.72" y2="588.50" stroke="#1a1a1a" stroke-width="1.0" />
<rect x="141.02" y="578.97" width="3" height="3" fill="#1a1a1a"/>
<polyline points="39.40,565.68 70.34,556.05 90.96,551.92 116.74,558.80 142.52,569.46 168.30,562.24" fill="none" stroke="#6b9a4a" stroke-width="1.05"/>
<line x1="70.50" y1="554.33" x2="70.50" y2="557.77" stroke="#6b9a4a" stroke-width="1.0" />
<line x1="68.14" y1="554.50" x2="72.54" y2="554.50" stroke="#6b9a4a" stroke-width="1.0" />
<line x1="68.14" y1="557.50" x2="72.54" y2="557.50" stroke="#6b9a4a" stroke-width="1.0" />
<line x1="90.50" y1="550.20" x2="90.50" y2="553.64" stroke="#6b9a4a" stroke-width="1.0" />
<line x1="88.76" y1="550.50" x2="93.16" y2="550.50" stroke="#6b9a4a" stroke-width="1.0" />
<line x1="88.76" y1="553.50" x2="93.16" y2="553.50" stroke="#6b9a4a" stroke-width="1.0" />
<line x1="116.50" y1="556.39" x2="116.50" y2="561.21" stroke="#6b9a4a" stroke-width="1.0" />
<line x1="114.54" y1="556.50" x2="118.94" y2="556.50" stroke="#6b9a4a" stroke-width="1.0" />
<line x1="114.54" y1="561.50" x2="118.94" y2="561.50" stroke="#6b9a4a" stroke-width="1.0" />
<line x1="142.50" y1="566.71" x2="142.50" y2="572.22" stroke="#6b9a4a" stroke-width="1.0" />
<line x1="140.32" y1="566.50" x2="144.72" y2="566.50" stroke="#6b9a4a" stroke-width="1.0" />
<line x1="140.32" y1="572.50" x2="144.72" y2="572.50" stroke="#6b9a4a" stroke-width="1.0" />
<line x1="168.50" y1="558.80" x2="168.50" y2="565.68" stroke="#6b9a4a" stroke-width="1.0" />
<line x1="166.10" y1="558.50" x2="170.50" y2="558.50" stroke="#6b9a4a" stroke-width="1.0" />
<line x1="166.10" y1="565.50" x2="170.50" y2="565.50" stroke="#6b9a4a" stroke-width="1.0" />
<polyline points="39.40,566.71 70.34,550.89 90.96,550.20 116.74,551.23 142.52,557.08 168.30,552.61" fill="none" stroke="#c8584a" stroke-width="1.05"/>
<line x1="70.50" y1="549.51" x2="70.50" y2="552.26" stroke="#c8584a" stroke-width="1.0" />
<line x1="68.14" y1="549.50" x2="72.54" y2="549.50" stroke="#c8584a" stroke-width="1.0" />
<line x1="68.14" y1="552.50" x2="72.54" y2="552.50" stroke="#c8584a" stroke-width="1.0" />
<line x1="90.50" y1="547.45" x2="90.50" y2="552.95" stroke="#c8584a" stroke-width="1.0" />
<line x1="88.76" y1="547.50" x2="93.16" y2="547.50" stroke="#c8584a" stroke-width="1.0" />
<line x1="88.76" y1="552.50" x2="93.16" y2="552.50" stroke="#c8584a" stroke-width="1.0" />
<line x1="116.50" y1="547.10" x2="116.50" y2="555.36" stroke="#c8584a" stroke-width="1.0" />
<line x1="114.54" y1="547.50" x2="118.94" y2="547.50" stroke="#c8584a" stroke-width="1.0" />
<line x1="114.54" y1="555.50" x2="118.94" y2="555.50" stroke="#c8584a" stroke-width="1.0" />
<line x1="142.50" y1="551.92" x2="142.50" y2="562.24" stroke="#c8584a" stroke-width="1.0" />
<line x1="140.32" y1="551.50" x2="144.72" y2="551.50" stroke="#c8584a" stroke-width="1.0" />
<line x1="140.32" y1="562.50" x2="144.72" y2="562.50" stroke="#c8584a" stroke-width="1.0" />
<line x1="168.50" y1="549.86" x2="168.50" y2="555.36" stroke="#c8584a" stroke-width="1.0" />
<line x1="166.10" y1="549.50" x2="170.50" y2="549.50" stroke="#c8584a" stroke-width="1.0" />
<line x1="166.10" y1="555.50" x2="170.50" y2="555.50" stroke="#c8584a" stroke-width="1.0" />
<line x1="39.50" y1="533.00" x2="39.50" y2="619.50" stroke="#262626" stroke-width="1.0" />
<line x1="38.60" y1="619.50" x2="168.80" y2="619.50" stroke="#262626" stroke-width="1.0" />
<line x1="36.30" y1="619.50" x2="39.10" y2="619.50" stroke="#262626" stroke-width="1.0" />
<text x="35.10" y="622.40" font-size="9.5" text-anchor="end">0</text>
<line x1="36.30" y1="601.50" x2="39.10" y2="601.50" stroke="#262626" stroke-width="1.0" />
<text x="35.10" y="605.20" font-size="9.5" text-anchor="end">50</text>
<line x1="36.30" y1="584.50" x2="39.10" y2="584.50" stroke="#262626" stroke-width="1.0" />
<text x="35.10" y="588.00" font-size="9.5" text-anchor="end">100</text>
<line x1="36.30" y1="567.50" x2="39.10" y2="567.50" stroke="#262626" stroke-width="1.0" />
<text x="35.10" y="570.80" font-size="9.5" text-anchor="end">150</text>
<line x1="36.30" y1="550.50" x2="39.10" y2="550.50" stroke="#262626" stroke-width="1.0" />
<text x="35.10" y="553.60" font-size="9.5" text-anchor="end">200</text>
<line x1="36.30" y1="533.50" x2="39.10" y2="533.50" stroke="#262626" stroke-width="1.0" />
<text x="35.10" y="536.40" font-size="9.5" text-anchor="end">250</text>
<line x1="39.50" y1="619.00" x2="39.50" y2="621.80" stroke="#262626" stroke-width="1.0" />
<text x="39.40" y="633.10" font-size="9.8" text-anchor="middle">0</text>
<line x1="65.50" y1="619.00" x2="65.50" y2="621.80" stroke="#262626" stroke-width="1.0" />
<text x="65.18" y="633.10" font-size="9.8" text-anchor="middle">5</text>
<line x1="90.50" y1="619.00" x2="90.50" y2="621.80" stroke="#262626" stroke-width="1.0" />
<text x="90.96" y="633.10" font-size="9.8" text-anchor="middle">10</text>
<line x1="116.50" y1="619.00" x2="116.50" y2="621.80" stroke="#262626" stroke-width="1.0" />
<text x="116.74" y="633.10" font-size="9.8" text-anchor="middle">15</text>
<line x1="142.50" y1="619.00" x2="142.50" y2="621.80" stroke="#262626" stroke-width="1.0" />
<text x="142.52" y="633.10" font-size="9.8" text-anchor="middle">20</text>
<line x1="168.50" y1="619.00" x2="168.50" y2="621.80" stroke="#262626" stroke-width="1.0" />
<text x="168.30" y="633.10" font-size="9.8" text-anchor="middle">25</text>
<text x="103.80" y="522.80" font-size="9.6" text-anchor="middle">hemoglobin (g/L)</text>
<text x="70.34" y="543.57" font-size="8" text-anchor="middle" font-weight="bold">*</text>
<text x="90.96" y="543.57" font-size="8" text-anchor="middle" font-weight="bold">*</text>
<text x="116.74" y="543.57" font-size="8" text-anchor="middle" font-weight="bold">*</text>
<polyline points="202.90,612.08 233.96,611.22 254.66,612.08 280.54,610.35 306.42,610.93 332.30,610.07" fill="none" stroke="#a9cbe6" stroke-width="1.05"/>
<polyline points="202.90,612.08 233.96,611.50 254.66,612.37 280.54,610.07 306.42,610.64 332.30,610.07" fill="none" stroke="#1f2a33" stroke-width="1.05"/>
<rect x="201.40" y="610.58" width="3" height="3" fill="#1f2a33"/>
<line x1="233.50" y1="610.64" x2="233.50" y2="612.37" stroke="#1f2a33" stroke-width="1.0" />
<line x1="231.76" y1="610.50" x2="236.16" y2="610.50" stroke="#1f2a33" stroke-width="1.0" />
<line x1="231.76" y1="612.50" x2="236.16" y2="612.50" stroke="#1f2a33" stroke-width="1.0" />
<rect x="232.46" y="610.00" width="3" height="3" fill="#1f2a33"/>
<rect x="253.16" y="610.87" width="3" height="3" fill="#1f2a33"/>
<rect x="279.04" y="608.57" width="3" height="3" fill="#1f2a33"/>
<rect x="304.92" y="609.14" width="3" height="3" fill="#1f2a33"/>
<rect x="330.80" y="608.57" width="3" height="3" fill="#1f2a33"/>
<polyline points="202.90,612.08 233.96,597.71 254.66,589.09 280.54,588.52 306.42,595.41 332.30,601.73" fill="none" stroke="#6b9a4a" stroke-width="1.05"/>
<line x1="254.50" y1="586.22" x2="254.50" y2="591.97" stroke="#6b9a4a" stroke-width="1.0" />
<line x1="252.46" y1="586.50" x2="256.86" y2="586.50" stroke="#6b9a4a" stroke-width="1.0" />
<line x1="252.46" y1="591.50" x2="256.86" y2="591.50" stroke="#6b9a4a" stroke-width="1.0" />
<line x1="280.50" y1="582.20" x2="280.50" y2="594.84" stroke="#6b9a4a" stroke-width="1.0" />
<line x1="278.34" y1="582.50" x2="282.74" y2="582.50" stroke="#6b9a4a" stroke-width="1.0" />
<line x1="278.34" y1="594.50" x2="282.74" y2="594.50" stroke="#6b9a4a" stroke-width="1.0" />
<line x1="306.50" y1="588.52" x2="306.50" y2="602.31" stroke="#6b9a4a" stroke-width="1.0" />
<line x1="304.22" y1="588.50" x2="308.62" y2="588.50" stroke="#6b9a4a" stroke-width="1.0" />
<line x1="304.22" y1="602.50" x2="308.62" y2="602.50" stroke="#6b9a4a" stroke-width="1.0" />
<line x1="332.50" y1="598.86" x2="332.50" y2="604.61" stroke="#6b9a4a" stroke-width="1.0" />
<line x1="330.10" y1="598.50" x2="334.50" y2="598.50" stroke="#6b9a4a" stroke-width="1.0" />
<line x1="330.10" y1="604.50" x2="334.50" y2="604.50" stroke="#6b9a4a" stroke-width="1.0" />
<polyline points="202.90,612.08 233.96,597.71 254.66,583.92 280.54,589.09 306.42,608.63" fill="none" stroke="#1a1a1a" stroke-width="1.05"/>
<rect x="201.40" y="610.58" width="3" height="3" fill="#1a1a1a"/>
<rect x="232.46" y="596.21" width="3" height="3" fill="#1a1a1a"/>
<line x1="254.50" y1="581.62" x2="254.50" y2="586.22" stroke="#1a1a1a" stroke-width="1.0" />
<line x1="252.46" y1="581.50" x2="256.86" y2="581.50" stroke="#1a1a1a" stroke-width="1.0" />
<line x1="252.46" y1="586.50" x2="256.86" y2="586.50" stroke="#1a1a1a" stroke-width="1.0" />
<rect x="253.16" y="582.42" width="3" height="3" fill="#1a1a1a"/>
<line x1="280.50" y1="583.35" x2="280.50" y2="594.84" stroke="#1a1a1a" stroke-width="1.0" />
<line x1="278.34" y1="583.50" x2="282.74" y2="583.50" stroke="#1a1a1a" stroke-width="1.0" />
<line x1="278.34" y1="594.50" x2="282.74" y2="594.50" stroke="#1a1a1a" stroke-width="1.0" />
<rect x="279.04" y="587.59" width="3" height="3" fill="#1a1a1a"/>
<line x1="306.50" y1="606.91" x2="306.50" y2="610.35" stroke="#1a1a1a" stroke-width="1.0" />
<line x1="304.22" y1="606.50" x2="308.62" y2="606.50" stroke="#1a1a1a" stroke-width="1.0" />
<line x1="304.22" y1="610.50" x2="308.62" y2="610.50" stroke="#1a1a1a" stroke-width="1.0" />
<rect x="304.92" y="607.13" width="3" height="3" fill="#1a1a1a"/>
<polyline points="202.90,612.08 233.96,598.29 254.66,587.94 280.54,588.52 306.42,595.41 332.30,601.73" fill="none" stroke="#1a1a1a" stroke-width="1.05"/>
<rect x="201.40" y="610.58" width="3" height="3" fill="#1a1a1a"/>
<rect x="232.46" y="596.79" width="3" height="3" fill="#1a1a1a"/>
<line x1="254.50" y1="585.07" x2="254.50" y2="590.82" stroke="#1a1a1a" stroke-width="1.0" />
<line x1="252.46" y1="585.50" x2="256.86" y2="585.50" stroke="#1a1a1a" stroke-width="1.0" />
<line x1="252.46" y1="590.50" x2="256.86" y2="590.50" stroke="#1a1a1a" stroke-width="1.0" />
<rect x="253.16" y="586.44" width="3" height="3" fill="#1a1a1a"/>
<rect x="279.04" y="587.02" width="3" height="3" fill="#1a1a1a"/>
<line x1="306.50" y1="588.52" x2="306.50" y2="602.31" stroke="#1a1a1a" stroke-width="1.0" />
<line x1="304.22" y1="588.50" x2="308.62" y2="588.50" stroke="#1a1a1a" stroke-width="1.0" />
<line x1="304.22" y1="602.50" x2="308.62" y2="602.50" stroke="#1a1a1a" stroke-width="1.0" />
<rect x="304.92" y="593.91" width="3" height="3" fill="#1a1a1a"/>
<line x1="332.50" y1="599.44" x2="332.50" y2="604.03" stroke="#1a1a1a" stroke-width="1.0" />
<line x1="330.10" y1="599.50" x2="334.50" y2="599.50" stroke="#1a1a1a" stroke-width="1.0" />
<line x1="330.10" y1="604.50" x2="334.50" y2="604.50" stroke="#1a1a1a" stroke-width="1.0" />
<rect x="330.80" y="600.23" width="3" height="3" fill="#1a1a1a"/>
<polyline points="202.90,612.08 233.96,597.71 254.66,597.14 280.54,588.52 306.42,581.62 332.30,560.93" fill="none" stroke="#c8584a" stroke-width="1.05"/>
<line x1="233.50" y1="581.62" x2="233.50" y2="613.80" stroke="#c8584a" stroke-width="1.0" />
<line x1="231.76" y1="581.50" x2="236.16" y2="581.50" stroke="#c8584a" stroke-width="1.0" />
<line x1="231.76" y1="613.50" x2="236.16" y2="613.50" stroke="#c8584a" stroke-width="1.0" />
<line x1="254.50" y1="591.39" x2="254.50" y2="602.88" stroke="#c8584a" stroke-width="1.0" />
<line x1="252.46" y1="591.50" x2="256.86" y2="591.50" stroke="#c8584a" stroke-width="1.0" />
<line x1="252.46" y1="602.50" x2="256.86" y2="602.50" stroke="#c8584a" stroke-width="1.0" />
<line x1="280.50" y1="570.70" x2="280.50" y2="606.33" stroke="#c8584a" stroke-width="1.0" />
<line x1="278.34" y1="570.50" x2="282.74" y2="570.50" stroke="#c8584a" stroke-width="1.0" />
<line x1="278.34" y1="606.50" x2="282.74" y2="606.50" stroke="#c8584a" stroke-width="1.0" />
<line x1="306.50" y1="553.46" x2="306.50" y2="609.78" stroke="#c8584a" stroke-width="1.0" />
<line x1="304.22" y1="553.50" x2="308.62" y2="553.50" stroke="#c8584a" stroke-width="1.0" />
<line x1="304.22" y1="609.50" x2="308.62" y2="609.50" stroke="#c8584a" stroke-width="1.0" />
<line x1="332.50" y1="540.25" x2="332.50" y2="581.62" stroke="#c8584a" stroke-width="1.0" />
<line x1="330.10" y1="540.50" x2="334.50" y2="540.50" stroke="#c8584a" stroke-width="1.0" />
<line x1="330.10" y1="581.50" x2="334.50" y2="581.50" stroke="#c8584a" stroke-width="1.0" />
<line x1="202.50" y1="532.20" x2="202.50" y2="618.90" stroke="#262626" stroke-width="1.0" />
<line x1="202.40" y1="618.50" x2="332.80" y2="618.50" stroke="#262626" stroke-width="1.0" />
<line x1="200.10" y1="618.50" x2="202.90" y2="618.50" stroke="#262626" stroke-width="1.0" />
<text x="198.90" y="621.80" font-size="9.5" text-anchor="end">0</text>
<line x1="200.10" y1="589.50" x2="202.90" y2="589.50" stroke="#262626" stroke-width="1.0" />
<text x="198.90" y="593.07" font-size="9.5" text-anchor="end">5</text>
<line x1="200.10" y1="560.50" x2="202.90" y2="560.50" stroke="#262626" stroke-width="1.0" />
<text x="198.90" y="564.33" font-size="9.5" text-anchor="end">10</text>
<line x1="200.10" y1="532.50" x2="202.90" y2="532.50" stroke="#262626" stroke-width="1.0" />
<text x="198.90" y="535.60" font-size="9.5" text-anchor="end">15</text>
<line x1="202.50" y1="618.40" x2="202.50" y2="621.20" stroke="#262626" stroke-width="1.0" />
<text x="202.90" y="633.10" font-size="9.8" text-anchor="middle">0</text>
<line x1="228.50" y1="618.40" x2="228.50" y2="621.20" stroke="#262626" stroke-width="1.0" />
<text x="228.78" y="633.10" font-size="9.8" text-anchor="middle">5</text>
<line x1="254.50" y1="618.40" x2="254.50" y2="621.20" stroke="#262626" stroke-width="1.0" />
<text x="254.66" y="633.10" font-size="9.8" text-anchor="middle">10</text>
<line x1="280.50" y1="618.40" x2="280.50" y2="621.20" stroke="#262626" stroke-width="1.0" />
<text x="280.54" y="633.10" font-size="9.8" text-anchor="middle">15</text>
<line x1="306.50" y1="618.40" x2="306.50" y2="621.20" stroke="#262626" stroke-width="1.0" />
<text x="306.42" y="633.10" font-size="9.8" text-anchor="middle">20</text>
<line x1="332.50" y1="618.40" x2="332.50" y2="621.20" stroke="#262626" stroke-width="1.0" />
<text x="332.30" y="633.10" font-size="9.8" text-anchor="middle">25</text>
<text x="267.60" y="522.20" font-size="9.6" text-anchor="middle">platelets (x 10<tspan dy="-3" font-size="6.5">-12</tspan><tspan dy="3">/L)</tspan></text>
<text x="254.66" y="571.98" font-size="8" text-anchor="middle" font-weight="bold">*</text>
<polyline points="374.60,617.20 405.56,617.20 426.20,617.20 452.00,617.20 477.80,617.20" fill="none" stroke="#1f2a33" stroke-width="1.05"/>
<rect x="373.10" y="615.70" width="3" height="3" fill="#1f2a33"/>
<rect x="404.06" y="615.70" width="3" height="3" fill="#1f2a33"/>
<rect x="424.70" y="615.70" width="3" height="3" fill="#1f2a33"/>
<rect x="450.50" y="615.70" width="3" height="3" fill="#1f2a33"/>
<rect x="476.30" y="615.70" width="3" height="3" fill="#1f2a33"/>
<polyline points="374.60,617.20 405.56,611.08 426.20,599.52 452.00,583.20 477.80,602.92" fill="none" stroke="#1a1a1a" stroke-width="1.05"/>
<rect x="373.10" y="615.70" width="3" height="3" fill="#1a1a1a"/>
<line x1="405.50" y1="609.04" x2="405.50" y2="613.12" stroke="#1a1a1a" stroke-width="1.0" />
<line x1="403.36" y1="609.50" x2="407.76" y2="609.50" stroke="#1a1a1a" stroke-width="1.0" />
<line x1="403.36" y1="613.50" x2="407.76" y2="613.50" stroke="#1a1a1a" stroke-width="1.0" />
<rect x="404.06" y="609.58" width="3" height="3" fill="#1a1a1a"/>
<line x1="426.50" y1="595.44" x2="426.50" y2="603.60" stroke="#1a1a1a" stroke-width="1.0" />
<line x1="424.00" y1="595.50" x2="428.40" y2="595.50" stroke="#1a1a1a" stroke-width="1.0" />
<line x1="424.00" y1="603.50" x2="428.40" y2="603.50" stroke="#1a1a1a" stroke-width="1.0" />
<rect x="424.70" y="598.02" width="3" height="3" fill="#1a1a1a"/>
<line x1="452.50" y1="564.50" x2="452.50" y2="601.90" stroke="#1a1a1a" stroke-width="1.0" />
<line x1="449.80" y1="564.50" x2="454.20" y2="564.50" stroke="#1a1a1a" stroke-width="1.0" />
<line x1="449.80" y1="601.50" x2="454.20" y2="601.50" stroke="#1a1a1a" stroke-width="1.0" />
<rect x="450.50" y="581.70" width="3" height="3" fill="#1a1a1a"/>
<line x1="477.50" y1="600.20" x2="477.50" y2="605.64" stroke="#1a1a1a" stroke-width="1.0" />
<line x1="475.60" y1="600.50" x2="480.00" y2="600.50" stroke="#1a1a1a" stroke-width="1.0" />
<line x1="475.60" y1="605.50" x2="480.00" y2="605.50" stroke="#1a1a1a" stroke-width="1.0" />
<rect x="476.30" y="601.42" width="3" height="3" fill="#1a1a1a"/>
<polyline points="374.60,617.20 405.56,600.20 426.20,612.10 452.00,590.68 477.80,602.58 503.60,608.02" fill="none" stroke="#6b9a4a" stroke-width="1.05"/>
<line x1="405.50" y1="590.68" x2="405.50" y2="609.72" stroke="#6b9a4a" stroke-width="1.0" />
<line x1="403.36" y1="590.50" x2="407.76" y2="590.50" stroke="#6b9a4a" stroke-width="1.0" />
<line x1="403.36" y1="609.50" x2="407.76" y2="609.50" stroke="#6b9a4a" stroke-width="1.0" />
<line x1="426.50" y1="608.02" x2="426.50" y2="616.18" stroke="#6b9a4a" stroke-width="1.0" />
<line x1="424.00" y1="608.50" x2="428.40" y2="608.50" stroke="#6b9a4a" stroke-width="1.0" />
<line x1="424.00" y1="616.50" x2="428.40" y2="616.50" stroke="#6b9a4a" stroke-width="1.0" />
<line x1="452.50" y1="579.80" x2="452.50" y2="601.56" stroke="#6b9a4a" stroke-width="1.0" />
<line x1="449.80" y1="579.50" x2="454.20" y2="579.50" stroke="#6b9a4a" stroke-width="1.0" />
<line x1="449.80" y1="601.50" x2="454.20" y2="601.50" stroke="#6b9a4a" stroke-width="1.0" />
<line x1="477.50" y1="599.52" x2="477.50" y2="605.64" stroke="#6b9a4a" stroke-width="1.0" />
<line x1="475.60" y1="599.50" x2="480.00" y2="599.50" stroke="#6b9a4a" stroke-width="1.0" />
<line x1="475.60" y1="605.50" x2="480.00" y2="605.50" stroke="#6b9a4a" stroke-width="1.0" />
<line x1="503.50" y1="605.30" x2="503.50" y2="610.74" stroke="#6b9a4a" stroke-width="1.0" />
<line x1="501.40" y1="605.50" x2="505.80" y2="605.50" stroke="#6b9a4a" stroke-width="1.0" />
<line x1="501.40" y1="610.50" x2="505.80" y2="610.50" stroke="#6b9a4a" stroke-width="1.0" />
<polyline points="374.60,617.20 405.56,608.70 426.20,603.60 452.00,590.68 477.80,588.30 503.60,569.60" fill="none" stroke="#c8584a" stroke-width="1.05"/>
<line x1="405.50" y1="606.66" x2="405.50" y2="610.74" stroke="#c8584a" stroke-width="1.0" />
<line x1="403.36" y1="606.50" x2="407.76" y2="606.50" stroke="#c8584a" stroke-width="1.0" />
<line x1="403.36" y1="610.50" x2="407.76" y2="610.50" stroke="#c8584a" stroke-width="1.0" />
<line x1="426.50" y1="593.40" x2="426.50" y2="613.80" stroke="#c8584a" stroke-width="1.0" />
<line x1="424.00" y1="593.50" x2="428.40" y2="593.50" stroke="#c8584a" stroke-width="1.0" />
<line x1="424.00" y1="613.50" x2="428.40" y2="613.50" stroke="#c8584a" stroke-width="1.0" />
<line x1="452.50" y1="551.24" x2="452.50" y2="601.90" stroke="#c8584a" stroke-width="1.0" />
<line x1="449.80" y1="551.50" x2="454.20" y2="551.50" stroke="#c8584a" stroke-width="1.0" />
<line x1="449.80" y1="601.50" x2="454.20" y2="601.50" stroke="#c8584a" stroke-width="1.0" />
<line x1="477.50" y1="575.38" x2="477.50" y2="601.22" stroke="#c8584a" stroke-width="1.0" />
<line x1="475.60" y1="575.50" x2="480.00" y2="575.50" stroke="#c8584a" stroke-width="1.0" />
<line x1="475.60" y1="601.50" x2="480.00" y2="601.50" stroke="#c8584a" stroke-width="1.0" />
<line x1="503.50" y1="550.90" x2="503.50" y2="588.30" stroke="#c8584a" stroke-width="1.0" />
<line x1="501.40" y1="550.50" x2="505.80" y2="550.50" stroke="#c8584a" stroke-width="1.0" />
<line x1="501.40" y1="588.50" x2="505.80" y2="588.50" stroke="#c8584a" stroke-width="1.0" />
<line x1="373.50" y1="532.20" x2="373.50" y2="617.70" stroke="#262626" stroke-width="1.0" />
<line x1="373.40" y1="617.50" x2="504.10" y2="617.50" stroke="#262626" stroke-width="1.0" />
<line x1="371.10" y1="617.50" x2="373.90" y2="617.50" stroke="#262626" stroke-width="1.0" />
<text x="369.90" y="620.60" font-size="9.5" text-anchor="end">0</text>
<line x1="371.10" y1="600.50" x2="373.90" y2="600.50" stroke="#262626" stroke-width="1.0" />
<text x="369.90" y="603.60" font-size="9.5" text-anchor="end">50</text>
<line x1="371.10" y1="583.50" x2="373.90" y2="583.50" stroke="#262626" stroke-width="1.0" />
<text x="369.90" y="586.60" font-size="9.5" text-anchor="end">100</text>
<line x1="371.10" y1="566.50" x2="373.90" y2="566.50" stroke="#262626" stroke-width="1.0" />
<text x="369.90" y="569.60" font-size="9.5" text-anchor="end">150</text>
<line x1="371.10" y1="549.50" x2="373.90" y2="549.50" stroke="#262626" stroke-width="1.0" />
<text x="369.90" y="552.60" font-size="9.5" text-anchor="end">200</text>
<line x1="371.10" y1="532.50" x2="373.90" y2="532.50" stroke="#262626" stroke-width="1.0" />
<text x="369.90" y="535.60" font-size="9.5" text-anchor="end">250</text>
<line x1="374.50" y1="617.20" x2="374.50" y2="620.00" stroke="#262626" stroke-width="1.0" />
<text x="374.60" y="633.10" font-size="9.8" text-anchor="middle">0</text>
<line x1="400.50" y1="617.20" x2="400.50" y2="620.00" stroke="#262626" stroke-width="1.0" />
<text x="400.40" y="633.10" font-size="9.8" text-anchor="middle">5</text>
<line x1="426.50" y1="617.20" x2="426.50" y2="620.00" stroke="#262626" stroke-width="1.0" />
<text x="426.20" y="633.10" font-size="9.8" text-anchor="middle">10</text>
<line x1="452.50" y1="617.20" x2="452.50" y2="620.00" stroke="#262626" stroke-width="1.0" />
<text x="452.00" y="633.10" font-size="9.8" text-anchor="middle">15</text>
<line x1="477.50" y1="617.20" x2="477.50" y2="620.00" stroke="#262626" stroke-width="1.0" />
<text x="477.80" y="633.10" font-size="9.8" text-anchor="middle">20</text>
<line x1="503.50" y1="617.20" x2="503.50" y2="620.00" stroke="#262626" stroke-width="1.0" />
<text x="503.60" y="633.10" font-size="9.8" text-anchor="middle">25</text>
<text x="437.80" y="522.20" font-size="9.6" text-anchor="middle">neutrophils (x 10<tspan dy="-3" font-size="6.5">-9</tspan><tspan dy="3">/L)</tspan></text>
<defs>
<filter id="pb1" x="-20%" y="-20%" width="140%" height="140%"><feGaussianBlur stdDeviation="1.0"/></filter>
<filter id="pb2" x="-20%" y="-20%" width="140%" height="140%"><feGaussianBlur stdDeviation="2.2"/></filter>
<filter id="pb4" x="-30%" y="-30%" width="160%" height="160%"><feGaussianBlur stdDeviation="4"/></filter>
<radialGradient id="bg1" cx="0.45" cy="0.35" r="0.8"><stop offset="0" stop-color="#dad7dc"/><stop offset="1" stop-color="#c9c5cc"/></radialGradient>
<linearGradient id="sp1" x1="0" y1="0" x2="0.3" y2="1"><stop offset="0" stop-color="#b2646f"/><stop offset="0.55" stop-color="#a5535f"/><stop offset="1" stop-color="#a2525f"/></linearGradient>
<clipPath id="cp1"><rect x="32.3" y="688.3" width="118.6" height="157.3"/></clipPath>
<clipPath id="cp2"><path d="M182,688 L280.5,688 L281.5,845.6 L164.6,845.6 L164.6,800.7 L170.4,800.7 L170.4,762 L165.2,762 L165.2,719 L170.4,703.5 Z"/></clipPath>
</defs>
<g clip-path="url(#cp1)">
<rect x="32.3" y="688.3" width="118.6" height="157.3" fill="url(#bg1)"/>
<path d="M55,690 L95,690 L82,740 L72,745 Z" fill="#e2e0e4" opacity="0.7" filter="url(#pb4)"/>
<path d="M133.9,711.6 C119,712 104,720 92.7,734.5 C85,746 81.6,762 81.6,780 C81.6,800 84,812 92.7,821.4 C100,827 112,827 118,822 C123,816 123,805 117.7,796.4 C113,788 113,770 114,762 C116,748 126,738 136.9,727.1 C141,723 142,715 133.9,711.6 Z" fill="#c4b8c0" opacity="0.5" filter="url(#pb2)" transform="translate(1.5,2)"/>
<path d="M133.9,711.6 C119,712 104,720 92.7,734.5 C85,746 81.6,762 81.6,780 C81.6,800 84,812 92.7,821.4 C100,827 112,827 118,822 C123,816 123,805 117.7,796.4 C113,788 113,770 114,762 C116,748 126,738 136.9,727.1 C141,723 142,715 133.9,711.6 Z" fill="url(#sp1)" filter="url(#pb1)"/>
<path d="M125,716 C110,718 100,726 93,738" stroke="#c68690" stroke-width="4" fill="none" opacity="0.55" filter="url(#pb2)"/>
<ellipse cx="100" cy="780" rx="8" ry="14" fill="#97505f" opacity="0.5" filter="url(#pb2)"/>
<ellipse cx="101" cy="812" rx="7" ry="5" fill="#bf949a" opacity="0.55" filter="url(#pb1)"/>
<ellipse cx="110" cy="735" rx="6" ry="4" fill="#c4808a" opacity="0.5" filter="url(#pb1)"/>
<ellipse cx="96" cy="760" rx="4" ry="7" fill="#bf7a86" opacity="0.45" filter="url(#pb1)"/>
<ellipse cx="105" cy="800" rx="5" ry="6" fill="#b57a80" opacity="0.5" filter="url(#pb1)"/>
<ellipse cx="94" cy="772" rx="3" ry="3" fill="#8e3e4e" opacity="0.5" filter="url(#pb1)"/>
<ellipse cx="112" cy="748" rx="3" ry="5" fill="#9a4a58" opacity="0.4" filter="url(#pb1)"/>
<ellipse cx="126" cy="728" rx="4" ry="3" fill="#c88a92" opacity="0.5" filter="url(#pb1)"/>
<ellipse cx="90" cy="805" rx="4" ry="5" fill="#c49098" opacity="0.5" filter="url(#pb1)"/>
<circle cx="112" cy="820" r="0.9" fill="#f5eeee"/>
<circle cx="135.5" cy="721" r="0.9" fill="#f5eeee"/>
<ellipse cx="132.5" cy="787" rx="7" ry="6" fill="#ebe2e3" opacity="0.9" filter="url(#pb1)"/>
<path d="M65.5,736.4 C60,737 55,742 52.7,746.3 C50,751 48.8,756 48.8,765 C49,770 51,775 55.6,779.5 C59,781.5 64,781 66.9,779.5 C69,777 69,770 67.6,761.8 C67,755 67.2,748 67.2,745 C67.2,740 67,737 65.5,736.4 Z" fill="#6a1e2f" filter="url(#pb1)"/>
<ellipse cx="58.5" cy="770" rx="3" ry="3.5" fill="#a87886" opacity="0.6" filter="url(#pb1)"/>
<ellipse cx="60" cy="748" rx="2.5" ry="3" fill="#9a5a6a" opacity="0.5" filter="url(#pb1)"/>
</g>
<g clip-path="url(#cp2)">
<rect x="164" y="687" width="118" height="159" fill="#d6d1cb"/>
<path d="M182,688 L279.5,688 L279.5,705 C277,712 274.5,718 273.5,730 C272.5,745 274,760 277,775 C279,790 279.5,810 279.5,846 L164,846 L164,700 Z" fill="#5a3f47" filter="url(#pb1)"/>
<path d="M182,688 L280,688 L280,712 L274,724 C271,714 265,706 256,700 C247,694 236,692 225,693 C212,696 200,702 190,709 C182,714 174,721 168,729 L164,720 Z" fill="#7f646b" filter="url(#pb1)"/>
<path d="M226,689 C234,694 244,695 252,690" stroke="#b89ca2" stroke-width="3" fill="none" opacity="0.7" filter="url(#pb1)"/>
<path d="M174,719 C185,710 197,703 210,698" stroke="#a88a90" stroke-width="2" fill="none" opacity="0.6" filter="url(#pb1)"/>
<rect x="164" y="718" width="8" height="84" fill="#8a767a" filter="url(#pb1)"/>
<path d="M171,748 C185,736 205,731 230,734 C250,737 258,750 256,770 C254,790 240,805 220,812 C200,816 180,812 171,798 Z" fill="#977873" filter="url(#pb2)"/>
<ellipse cx="212" cy="758" rx="22" ry="11" fill="#b9a088" opacity="0.75" filter="url(#pb2)"/>
<ellipse cx="186" cy="780" rx="9" ry="15" fill="#b59a88" opacity="0.7" filter="url(#pb2)"/>
<ellipse cx="203" cy="795" rx="8" ry="9" fill="#a78a80" opacity="0.6" filter="url(#pb2)"/>
<ellipse cx="198" cy="770" rx="4" ry="8" fill="#7a5c64" opacity="0.5" filter="url(#pb1)"/>
<ellipse cx="221" cy="782" rx="4" ry="9" fill="#7a5c64" opacity="0.45" filter="url(#pb1)"/>
<path d="M174,721 C184,711 197,703 212,698 C225,694 240,695 253,701 C263,708 269,720 270,733 C270,742 264,746 256,745 C245,742 237,736 228,735 C215,733 205,734 195,737 C187,740 180,746 173.5,751 C170,740 170,728 174,721 Z" fill="#551a28" filter="url(#pb1)"/>
<ellipse cx="236" cy="757" rx="13" ry="12" fill="#7a5a72" opacity="0.7" filter="url(#pb2)"/>
<path d="M250,745 C258,742 266,742 271,748 C275,765 276,795 272,815 C266,830 250,838 232,836 C220,834 212,826 212,818 C220,800 235,785 248,772 C252,762 250,752 250,745 Z" fill="#5f3247" filter="url(#pb2)"/>
<path d="M214,816 C224,801 239,786 254,776 C262,771 269,772 270,782 C272,797 268,814 259,825 C250,833 235,835 224,831 C216,827 212,822 214,816 Z" fill="#6a3a52" filter="url(#pb1)"/>
<path d="M222,812 C232,800 244,790 256,784" stroke="#7d4d64" stroke-width="6" fill="none" opacity="0.6" filter="url(#pb2)"/>
<path d="M234,806 C240,800 247,795 253,792" stroke="#e4d4dc" stroke-width="1.6" fill="none" opacity="0.85"/>
<path d="M226,812 C230,808 234,805 237,803" stroke="#e4d4dc" stroke-width="1.3" fill="none" opacity="0.7"/>
<path d="M164,800 L172,800 C180,804 188,810 195,820 C200,828 206,838 210,846 L164,846 Z" fill="#3a3335" filter="url(#pb1)"/>
<ellipse cx="190" cy="832" rx="9" ry="5" fill="#7a2a32" opacity="0.6" filter="url(#pb2)"/>
<path d="M205,834 C225,838 250,835 268,828 L279,832 L279,846 L205,846 Z" fill="#5c504e" filter="url(#pb2)"/>
<path d="M279.5,705 C277,712 274.5,718 273.5,730 C272.5,745 274,760 277,775 C279,790 279.5,810 279.5,846" stroke="#2e2a2a" stroke-width="2" fill="none" filter="url(#pb1)"/>
<path d="M272,740 C269,760 270,785 273,846" stroke="#4a4044" stroke-width="4" fill="none" opacity="0.7" filter="url(#pb2)"/>
<circle cx="196" cy="717" r="1.0" fill="#f4eef0" opacity="0.85"/>
<circle cx="235" cy="722" r="1.2" fill="#f4eef0" opacity="0.85"/>
<circle cx="248" cy="729" r="1.0" fill="#f4eef0" opacity="0.85"/>
<circle cx="253" cy="737" r="0.9" fill="#f4eef0" opacity="0.85"/>
<circle cx="214" cy="736" r="0.9" fill="#f4eef0" opacity="0.85"/>
<circle cx="200" cy="732" r="0.8" fill="#f4eef0" opacity="0.85"/>
<circle cx="243" cy="710" r="0.8" fill="#f4eef0" opacity="0.85"/>
<circle cx="188" cy="744" r="0.8" fill="#f4eef0" opacity="0.85"/>
<circle cx="222" cy="770" r="0.8" fill="#f4eef0" opacity="0.85"/>
<circle cx="230" cy="780" r="0.7" fill="#f4eef0" opacity="0.85"/>
<circle cx="216" cy="805" r="0.8" fill="#f4eef0" opacity="0.85"/>
<circle cx="197" cy="808" r="0.7" fill="#f4eef0" opacity="0.85"/>
<circle cx="240" cy="747" r="0.8" fill="#f4eef0" opacity="0.85"/>
</g>
<text x="50.50" y="679.00" font-size="11.6" text-anchor="middle" textLength="18.00" lengthAdjust="spacingAndGlyphs">WT</text>
<text x="71.00" y="679.00" font-size="11.6" font-style="italic">SclCre<tspan dy="-3.2" font-size="8.5">ER</tspan><tspan dy="3.2">;V617F</tspan></text>
<text x="181.50" y="679.20" font-size="11.6" font-style="italic">SclCre<tspan dy="-3.2" font-size="8.5">ER</tspan><tspan dy="3.2">;V617F</tspan></text>
<line x1="255.80" y1="723.30" x2="305.20" y2="723.30" stroke="#c4141e" stroke-width="2.4" />
<line x1="255.80" y1="798.30" x2="303.30" y2="798.30" stroke="#c4141e" stroke-width="2.4" />
<text x="309.60" y="727.60" font-size="11.6" textLength="21.20" lengthAdjust="spacingAndGlyphs">liver</text>
<text x="309.60" y="800.90" font-size="11.6" textLength="34.60" lengthAdjust="spacingAndGlyphs">spleen</text>
<rect x="390.70" y="805.40" width="16.30" height="4.90" fill="#ffffff" stroke="#2a2a2a" stroke-width="1.0" />
<line x1="398.50" y1="804.76" x2="398.50" y2="805.03" stroke="#222" stroke-width="1.0" />
<line x1="395.35" y1="804.50" x2="402.35" y2="804.50" stroke="#222" stroke-width="1.0" />
<line x1="395.35" y1="805.50" x2="402.35" y2="805.50" stroke="#222" stroke-width="1.0" />
<rect x="416.05" y="804.05" width="16.30" height="6.25" fill="#93c6ee" stroke="#2b3640" stroke-width="1.0" />
<line x1="424.50" y1="803.19" x2="424.50" y2="803.91" stroke="#222" stroke-width="1.0" />
<line x1="420.70" y1="803.50" x2="427.70" y2="803.50" stroke="#222" stroke-width="1.0" />
<line x1="420.70" y1="803.50" x2="427.70" y2="803.50" stroke="#222" stroke-width="1.0" />
<rect x="441.40" y="743.75" width="16.30" height="66.55" fill="#1b1a16" stroke="#111" stroke-width="1.0" />
<line x1="449.50" y1="733.35" x2="449.50" y2="753.15" stroke="#222" stroke-width="1.0" />
<line x1="446.05" y1="733.50" x2="453.05" y2="733.50" stroke="#222" stroke-width="1.0" />
<line x1="446.05" y1="753.50" x2="453.05" y2="753.50" stroke="#222" stroke-width="1.0" />
<rect x="466.75" y="755.45" width="16.30" height="54.85" fill="#5d8c3b" stroke="#2a3a1c" stroke-width="1.0" />
<line x1="474.50" y1="747.30" x2="474.50" y2="762.60" stroke="#222" stroke-width="1.0" />
<line x1="471.40" y1="747.50" x2="478.40" y2="747.50" stroke="#222" stroke-width="1.0" />
<line x1="471.40" y1="762.50" x2="478.40" y2="762.50" stroke="#222" stroke-width="1.0" />
<rect x="492.10" y="732.95" width="16.30" height="77.35" fill="#cd3824" stroke="#3a1a12" stroke-width="1.0" />
<line x1="500.50" y1="723.45" x2="500.50" y2="741.45" stroke="#2a0a05" stroke-width="1.0" />
<line x1="496.75" y1="723.50" x2="503.75" y2="723.50" stroke="#2a0a05" stroke-width="1.0" />
<line x1="496.75" y1="741.50" x2="503.75" y2="741.50" stroke="#2a0a05" stroke-width="1.0" />
<line x1="386.50" y1="720.30" x2="386.50" y2="810.80" stroke="#262626" stroke-width="1.0" />
<line x1="385.50" y1="810.50" x2="512.00" y2="810.50" stroke="#262626" stroke-width="1.0" />
<line x1="383.40" y1="810.50" x2="386.00" y2="810.50" stroke="#262626" stroke-width="1.0" />
<text x="382.40" y="813.40" font-size="8.6" text-anchor="end">0</text>
<line x1="383.40" y1="765.50" x2="386.00" y2="765.50" stroke="#262626" stroke-width="1.0" />
<text x="382.40" y="768.40" font-size="8.6" text-anchor="end">1'000</text>
<line x1="383.40" y1="720.50" x2="386.00" y2="720.50" stroke="#262626" stroke-width="1.0" />
<text x="382.40" y="723.40" font-size="8.6" text-anchor="end">2'000</text>
<line x1="415.50" y1="703.50" x2="509.60" y2="703.50" stroke="#2a2a2a" stroke-width="1.0" />
<text x="461.00" y="699.60" font-size="8.8" text-anchor="middle" font-weight="bold">***</text>
<line x1="398.80" y1="719.50" x2="492.30" y2="719.50" stroke="#2a2a2a" stroke-width="1.0" />
<text x="447.30" y="715.90" font-size="8.8" text-anchor="middle" font-weight="bold">***</text>
<text x="448.20" y="680.20" font-size="12" text-anchor="middle" textLength="102.00" lengthAdjust="spacingAndGlyphs">spleen weight (mg)</text>
<text x="354.50" y="824.30" font-size="11.2" font-style="italic">Stat1:</text>
<text x="398.85" y="824.30" font-size="11.2" text-anchor="middle">+/+</text>
<text x="424.20" y="824.30" font-size="11.2" text-anchor="middle">-/-</text>
<text x="449.55" y="824.30" font-size="11.2" text-anchor="middle">+/+</text>
<text x="474.90" y="824.30" font-size="11.2" text-anchor="middle">+/-</text>
<text x="500.25" y="824.30" font-size="11.2" text-anchor="middle">-/-</text>
<line x1="438.60" y1="829.50" x2="512.00" y2="829.50" stroke="#2a2a2a" stroke-width="1.2" />
<text x="432.80" y="845.40" font-size="11.6" font-style="italic">SclCre<tspan dy="-3.2" font-size="8.5">ER</tspan><tspan dy="3.2">;V617F</tspan></text>
</svg>
</body></html>
